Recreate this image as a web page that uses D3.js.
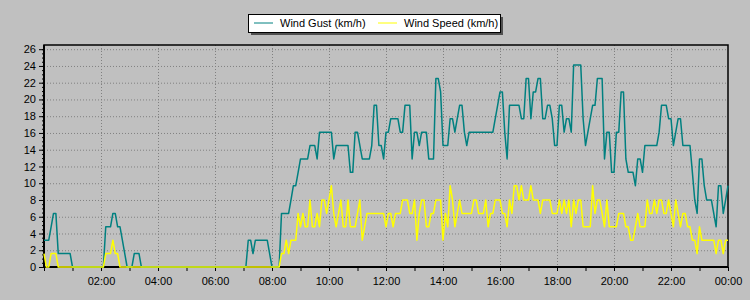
<!DOCTYPE html>
<html>
<head>
<meta charset="utf-8">
<script src="https://cdn.jsdelivr.net/npm/d3@7"></script>
<style>
  body { margin: 0; background: #c0c0c0; }
  svg { display: block; font-family: "Liberation Sans", Arial, sans-serif; }
</style>
</head>
<body>
<svg id="chart" width="750" height="300"></svg>
<script>
// one reading every 5 minutes, 00:00 -> 24:00 (one row per hour)
var startTime = new Date(2020, 0, 1, 0, 0);
var stepMinutes = 5;

var seriesNames = ["Wind Gust (km/h)", "Wind Speed (km/h)"];

var windGust = [
  3.2,3.2,3.2,4.8,6.4,6.4,1.6,1.6,1.6,1.6,1.6,1.6,
  0,0,0,0,0,0,0,0,0,0,0,0,
  0,0,4.8,4.8,4.8,6.4,6.4,4.8,4.8,3.2,1.6,0,
  0,0,1.6,1.6,1.6,0,0,0,0,0,0,0,
  0,0,0,0,0,0,0,0,0,0,0,0,
  0,0,0,0,0,0,0,0,0,0,0,0,
  0,0,0,0,0,0,0,0,0,0,0,0,
  0,0,3.2,3.2,1.6,3.2,3.2,3.2,3.2,3.2,3.2,1.6,
  0,0,0,0,6.4,6.4,6.4,6.4,8.0,9.7,9.7,11.3,
  12.9,12.9,12.9,12.9,14.5,14.5,14.5,12.9,16.1,16.1,16.1,16.1,
  16.1,16.1,12.9,14.5,14.5,14.5,14.5,14.5,14.5,11.3,11.3,16.1,
  16.1,14.5,12.9,12.9,12.9,12.9,14.5,19.3,19.3,14.5,14.5,12.9,
  16.1,16.1,17.7,17.7,17.7,17.7,16.1,16.1,19.3,19.3,19.3,12.9,
  16.1,16.1,14.5,16.1,16.1,16.1,12.9,12.9,12.9,22.5,22.5,20.9,
  14.5,14.5,14.5,17.7,17.7,16.1,17.7,19.3,19.3,16.1,14.5,16.1,
  16.1,16.1,16.1,16.1,16.1,16.1,16.1,16.1,16.1,16.1,17.7,19.3,
  20.9,20.9,16.1,12.9,19.3,19.3,19.3,19.3,19.3,17.7,17.7,22.5,
  22.5,17.7,20.9,20.9,22.5,22.5,17.7,17.7,19.3,19.3,17.7,14.5,
  14.5,19.3,19.3,16.1,17.7,17.7,16.1,24.1,24.1,24.1,24.1,17.7,
  14.5,16.1,17.7,19.3,19.3,22.5,22.5,22.5,12.9,16.1,16.1,11.3,
  11.3,16.1,16.1,20.9,20.9,12.9,11.3,11.3,11.3,9.7,12.9,12.9,
  11.3,14.5,14.5,14.5,14.5,14.5,14.5,16.1,19.3,19.3,19.3,17.7,
  17.7,14.5,16.1,17.7,17.7,14.5,14.5,14.5,14.5,11.3,8.0,6.4,
  12.9,12.9,9.7,8.0,8.0,8.0,6.4,4.8,9.7,9.7,6.4,8.0,
  9.7
];

var windSpeed = [
  1.6,0,0,1.6,1.6,1.6,0,0,0,0,0,0,
  0,0,0,0,0,0,0,0,0,0,0,0,
  0,0,1.6,1.6,1.6,3.2,1.6,1.6,0,0,0,0,
  0,0,0,0,0,0,0,0,0,0,0,0,
  0,0,0,0,0,0,0,0,0,0,0,0,
  0,0,0,0,0,0,0,0,0,0,0,0,
  0,0,0,0,0,0,0,0,0,0,0,0,
  0,0,0,0,0,0,0,0,0,0,0,0,
  0,0,0,0,1.6,1.6,3.2,1.6,3.2,3.2,3.2,6.4,
  4.8,6.4,4.8,4.8,8.0,4.8,4.8,6.4,4.8,8.0,8.0,6.4,
  8.0,9.7,6.4,4.8,6.4,8.0,4.8,4.8,8.0,4.8,4.8,4.8,
  6.4,8.0,3.2,4.8,6.4,6.4,6.4,6.4,6.4,6.4,6.4,6.4,
  4.8,6.4,6.4,4.8,6.4,6.4,6.4,8.0,8.0,8.0,6.4,6.4,
  8.0,3.2,6.4,8.0,8.0,4.8,4.8,6.4,6.4,8.0,8.0,8.0,
  3.2,6.4,4.8,9.7,8.0,4.8,6.4,8.0,6.4,6.4,6.4,6.4,
  6.4,8.0,8.0,6.4,6.4,6.4,8.0,4.8,6.4,6.4,8.0,8.0,
  8.0,6.4,6.4,4.8,8.0,6.4,9.7,9.7,8.0,9.7,8.0,8.0,
  8.0,9.7,8.0,8.0,8.0,6.4,8.0,8.0,8.0,8.0,6.4,6.4,
  6.4,8.0,6.4,8.0,6.4,8.0,4.8,8.0,6.4,8.0,8.0,4.8,
  4.8,4.8,4.8,9.7,6.4,8.0,8.0,6.4,4.8,8.0,4.8,4.8,
  4.8,4.8,6.4,6.4,6.4,4.8,4.8,3.2,3.2,4.8,6.4,4.8,
  4.8,4.8,8.0,6.4,6.4,8.0,6.4,8.0,8.0,6.4,6.4,8.0,
  6.4,4.8,8.0,6.4,4.8,6.4,6.4,4.8,4.8,3.2,3.2,1.6,
  4.8,3.2,3.2,3.2,3.2,3.2,3.2,1.6,3.2,3.2,1.6,3.2,
  3.2
];

var yTicks = [0, 2, 4, 6, 8, 10, 12, 14, 16, 18, 20, 22, 24, 26];
var xTickHours = [2, 4, 6, 8, 10, 12, 14, 16, 18, 20, 22, 24];

var margin = { top: 45, right: 22, bottom: 33, left: 44 },
  width = 750 - margin.left - margin.right,
  height = 300 - margin.top - margin.bottom;

var svg = d3.select("#chart");
var g = svg.append("g").attr("transform", "translate(" + margin.left + "," + margin.top + ")");

var endTime = d3.timeHour.offset(startTime, 24);
var x = d3.scaleTime().domain([startTime, endTime]).range([0, width]);
var y = d3.scaleLinear().domain([0, 26.5]).range([height, 0]);

function timeAt(i) { return d3.timeMinute.offset(startTime, i * stepMinutes); }
function hourAt(h) { return d3.timeHour.offset(startTime, h); }

// grid
g.append("g").selectAll("line").data(yTicks.filter(function (d) { return d > 0; }))
  .join("line")
  .attr("x1", 0).attr("x2", width)
  .attr("y1", function (d) { return y(d) + 0.5; }).attr("y2", function (d) { return y(d) + 0.5; })
  .attr("stroke", "#808080").attr("stroke-dasharray", "1,2");
g.append("g").selectAll("line").data(xTickHours.filter(function (d) { return d < 24; }))
  .join("line")
  .attr("x1", function (d) { return x(hourAt(d)) + 0.5; }).attr("x2", function (d) { return x(hourAt(d)) + 0.5; })
  .attr("y1", 0).attr("y2", height)
  .attr("stroke", "#808080").attr("stroke-dasharray", "1,2");

// frame
g.append("rect").attr("x", 0).attr("y", 0).attr("width", width).attr("height", height)
  .attr("fill", "none").attr("stroke", "#000").attr("stroke-width", 1.5);

// axes
var yMinor = g.append("g")
  .call(d3.axisLeft(y).tickValues(d3.range(0, 26.5, 0.5)).tickSize(2).tickFormat(""));
var yAxis = g.append("g")
  .call(d3.axisLeft(y).tickValues(yTicks).tickSize(5).tickPadding(3));
yAxis.selectAll("text").attr("font-size", 11).attr("fill", "#000");

var xMinor = g.append("g").attr("transform", "translate(0," + height + ")")
  .call(d3.axisBottom(x).ticks(d3.timeHour.every(1)).tickSize(4).tickFormat(""));
var xAxis = g.append("g").attr("transform", "translate(0," + height + ")")
  .call(d3.axisBottom(x).tickValues(xTickHours.map(hourAt)).tickSize(4).tickPadding(6)
    .tickFormat(function (d) { return d3.timeFormat("%H:%M")(d); }));
xAxis.selectAll("text").attr("font-size", 11).attr("fill", "#000");

[yMinor, yAxis, xMinor, xAxis].forEach(function (a) {
  a.select(".domain").remove();
  a.selectAll("line").attr("stroke", "#000");
  a.attr("font-family", null);
});

// axis lines
g.append("line").attr("x1", 0).attr("x2", 0).attr("y1", 0).attr("y2", height)
  .attr("stroke", "#000").attr("stroke-width", 2);
g.append("line").attr("x1", 0).attr("x2", width).attr("y1", height).attr("y2", height)
  .attr("stroke", "#000").attr("stroke-width", 2);

// series
var line = d3.line()
  .x(function (d, i) { return x(timeAt(i)); })
  .y(function (d) { return y(d); });

g.append("path").datum(windGust)
  .attr("fill", "none").attr("stroke", "#008080").attr("stroke-width", 1.5)
  .attr("stroke-linejoin", "round").attr("d", line);
g.append("path").datum(windSpeed)
  .attr("fill", "none").attr("stroke", "#ffff00").attr("stroke-width", 1.5)
  .attr("stroke-linejoin", "round").attr("d", line);

// legend
var legend = svg.append("g").attr("transform", "translate(248,14)");
legend.append("rect").attr("x", 3).attr("y", 3).attr("width", 252).attr("height", 18).attr("fill", "#505050");
legend.append("rect").attr("x", 0.5).attr("y", 0.5).attr("width", 252).attr("height", 18)
  .attr("fill", "#fff").attr("stroke", "#000");
var legendColors = ["#008080", "#ffff00"];
var legendX = [6, 130];
seriesNames.forEach(function (name, i) {
  legend.append("line").attr("x1", legendX[i]).attr("x2", legendX[i] + 19)
    .attr("y1", 9).attr("y2", 9).attr("stroke", legendColors[i]).attr("stroke-width", 1);
  legend.append("text").attr("x", legendX[i] + 26).attr("y", 13)
    .attr("font-size", 11).attr("fill", "#000").text(name);
});
</script>
</body>
</html>
